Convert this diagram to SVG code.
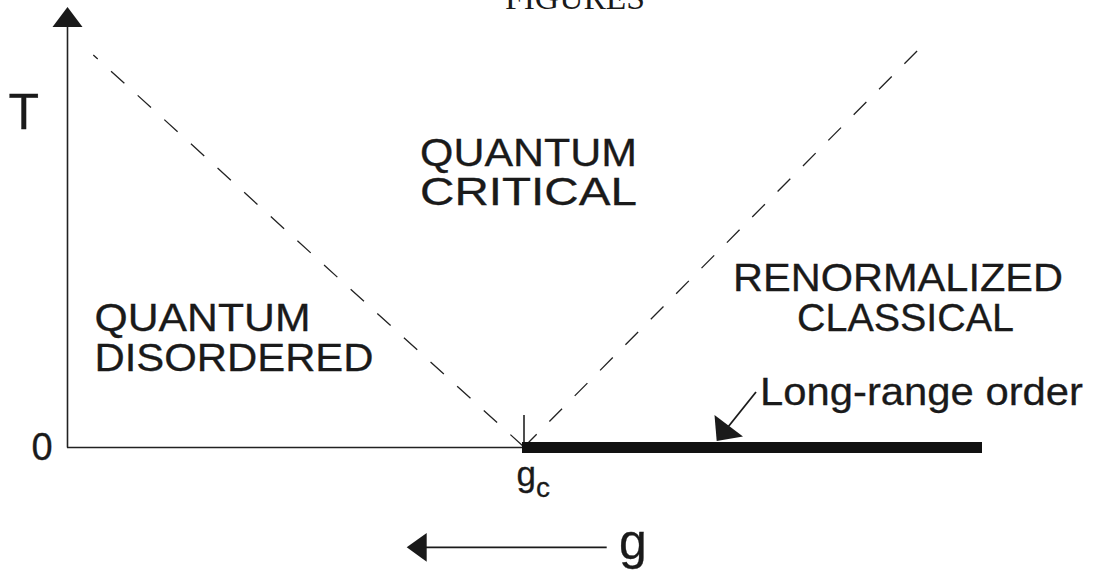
<svg xmlns="http://www.w3.org/2000/svg" width="1099" height="571" viewBox="0 0 1099 571">
<style>
.lbl{font-family:"Liberation Sans",Arial,sans-serif;fill:#1a1a1a;stroke:#1a1a1a;stroke-width:0.3;}
.ax{stroke:#222;stroke-width:1.6;fill:none;}
.dash{stroke:#222;stroke-width:1.3;fill:none;stroke-dasharray:18 18;}
</style>
<rect width="1099" height="571" fill="#fff"/>
<text x="505" y="8.5" font-family="'Liberation Serif',serif" font-size="33" textLength="140" lengthAdjust="spacingAndGlyphs" fill="#1a1a1a">FIGURES</text>
<g id="axes">
<line class="ax" x1="67.5" y1="25" x2="67.5" y2="447.5"/>
<polygon points="67.5,7 52.5,27 82.5,27" fill="#1a1a1a"/>
<line class="ax" x1="67" y1="447.5" x2="524" y2="447.5"/>
<text class="lbl" x="8.5" y="129.3" font-size="50">T</text>
<text class="lbl" x="31.5" y="460" font-size="38">0</text>
</g>
<g id="connectors">
<line class="dash" x1="93.3" y1="55" x2="524" y2="447" stroke-dashoffset="12"/>
<line class="dash" x1="524" y1="447" x2="921" y2="47"/>
<line class="ax" x1="524" y1="415" x2="524" y2="447.5" stroke-width="1.3"/>
<line x1="756" y1="392" x2="728" y2="427" stroke="#1a1a1a" stroke-width="1.8"/>
<polygon points="716.7,441 714.5,415 743,436.5" fill="#1a1a1a"/>
<line x1="424" y1="547.3" x2="606.7" y2="547.3" stroke="#1a1a1a" stroke-width="1.8"/>
<polygon points="406.7,547.3 426.7,533 426.7,561.7" fill="#1a1a1a"/>
</g>
<g id="order-bar">
<rect x="522" y="442" width="460" height="11" fill="#111"/>
</g>
<g id="gc">
<text class="lbl" x="516.5" y="486" font-size="35">g</text>
<text class="lbl" x="536" y="496.5" font-size="28">c</text>
</g>
<g id="quantum-critical">
<text class="lbl" x="420" y="165.5" font-size="38" textLength="217" lengthAdjust="spacingAndGlyphs">QUANTUM</text>
<text class="lbl" x="420" y="205" font-size="38" textLength="217" lengthAdjust="spacingAndGlyphs">CRITICAL</text>
</g>
<g id="renormalized-classical">
<text class="lbl" x="733" y="290.7" font-size="38" textLength="330" lengthAdjust="spacingAndGlyphs">RENORMALIZED</text>
<text class="lbl" x="797" y="330.7" font-size="38" textLength="217" lengthAdjust="spacingAndGlyphs">CLASSICAL</text>
</g>
<g id="quantum-disordered">
<text class="lbl" x="94.5" y="331" font-size="38" textLength="216" lengthAdjust="spacingAndGlyphs">QUANTUM</text>
<text class="lbl" x="94.5" y="370.7" font-size="38" textLength="279" lengthAdjust="spacingAndGlyphs">DISORDERED</text>
</g>
<g id="long-range">
<text class="lbl" x="760" y="405" font-size="39" textLength="323" lengthAdjust="spacingAndGlyphs">Long-range order</text>
</g>
<g id="g-axis">
<text class="lbl" x="619" y="558.5" font-size="50">g</text>
</g>
</svg>
